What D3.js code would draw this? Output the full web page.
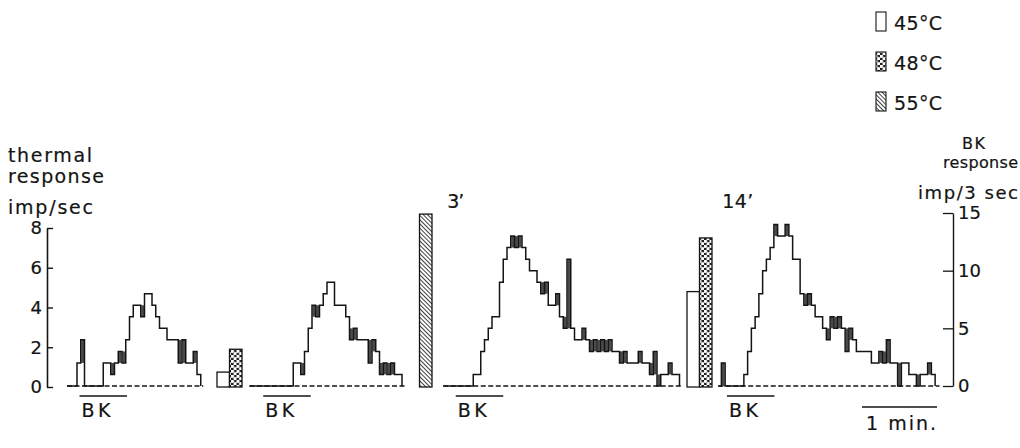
<!DOCTYPE html>
<html><head><meta charset="utf-8">
<script src="https://cdn.jsdelivr.net/npm/d3@7"></script>
<style>
html,body{margin:0;padding:0;background:#fff;}
svg{display:block;}
text{font-family:"DejaVu Sans","Liberation Sans",Arial,sans-serif;fill:#141414;stroke:#141414;stroke-width:0.2px;}
</style></head><body>
<svg id="c" width="1020" height="448"></svg>
<script>
// ---------- data ----------
const panelNames = ["", "", "3’", "14’"];
const panelStart = [0, 146, 301, 521];     // s, start of each record
const panelEnd   = [109, 270, 493, 698];   // s, end of dashed baseline
const histStart  = [8, 181, 325, 523.5];   // s, first bin of BK histogram
const binSec = 3;                          // imp / 3 sec
const bkHist1 = [2,4,0,0,0,0,0,2,2,1,2,3,2,4,6,7,7,6,8,8,7,6,5,5,4,4,4,2,4,2,2,3,1];
const bkHist2 = [2,2,1,3,5,7,6,7,8,9,9,7,7,7,6,4,5,4,4,4,2,4,3,1,2,1,2,1,1];
const bkHist3 = [1,1,3,4,5,6,6,9,11,12,13,12,13,12,11,10,10,9,8,9,7,7,8,6,5,11,5,4,4,5,4,3,4,3,4,3,4,3,3,2,3,2,2,2,3,2,2,1,3,0,1,1,2,1,1];
const bkHist4 = [2,0,0,0,0,0,1,3,5,6,8,10,11,12,14,13,13,14,13,11,11,8,7,8,7,6,6,5,4,6,5,6,5,3,5,4,3,3,3,3,2,2,3,2,4,2,2,0,2,2,1,1,0,1,1,2,1];
const bkStimStart = [10, 157, 311, 528];   // s
const bkStimDur = 38;                      // s
const thermalTemp  = ["45", "48", "55", "45", "48"];
const thermalStart = [120, 130, 282, 496, 506]; // s
const thermalDur = 10;                          // s
const thermalValue = [0.75, 1.9, 8.7, 4.8, 7.5]; // imp/sec
const legendTemps = ["45", "48", "55"];
const leftTicks = [0, 2, 4, 6, 8];
const rightTicks = [0, 5, 10, 15];
const scaleBarStart = 636, scaleBarDur = 60;

// ---------- drawing ----------
const svg = d3.select("#c");
const ink = "#141414";
const font = "DejaVu Sans, Liberation Sans, Arial, sans-serif";
const x = d3.scaleLinear().domain([0, 700]).range([67, 942]);
const yL = d3.scaleLinear().domain([0, 8]).range([387, 228]);
const yR = d3.scaleLinear().domain([0, 15]).range([386, 213]);

const defs = svg.append("defs");
const pDots = defs.append("pattern").attr("id","dots").attr("patternUnits","userSpaceOnUse")
  .attr("width",5.5).attr("height",5);
pDots.append("rect").attr("width",5.5).attr("height",5).attr("fill","#1c1c1c");
pDots.append("circle").attr("cx",1.4).attr("cy",1.25).attr("r",1.7).attr("fill","#fff");
pDots.append("circle").attr("cx",4.1).attr("cy",3.75).attr("r",1.7).attr("fill","#fff");
const pHatch = defs.append("pattern").attr("id","hatch").attr("patternUnits","userSpaceOnUse")
  .attr("width",3).attr("height",3).attr("patternTransform","rotate(-45)");
pHatch.append("rect").attr("width",3).attr("height",3).attr("fill","#fff");
pHatch.append("line").attr("x1",0).attr("y1",0).attr("x2",0).attr("y2",3)
  .attr("stroke","#1c1c1c").attr("stroke-width",1.7);
const fillFor = t => t === "45" ? "#fff" : (t === "48" ? "url(#dots)" : "url(#hatch)");

function label(xx, yy, txt, size, len) {
  const t = svg.append("text").attr("x",xx).attr("y",yy).attr("font-size",size).text(txt);
  if (len) t.attr("textLength",len).attr("lengthAdjust","spacing");
  return t;
}

// left axis
const axL = svg.append("g").attr("transform",`translate(47,0)`)
  .call(d3.axisLeft(yL).tickValues(leftTicks).tickSize(-6).tickSizeOuter(0).tickPadding(5));
axL.select(".domain").attr("stroke",ink).attr("stroke-width",1.6);
axL.selectAll(".tick line").attr("stroke",ink).attr("stroke-width",1.4);
axL.selectAll(".tick text").attr("font-size",18).attr("font-family",font).attr("fill",ink);

// right axis
const axR = svg.append("g").attr("transform",`translate(953,0)`)
  .call(d3.axisRight(yR).tickValues(rightTicks).tickSize(-10).tickSizeOuter(0).tickPadding(5));
axR.select(".domain").attr("stroke",ink).attr("stroke-width",1.4);
axR.selectAll(".tick line").attr("stroke",ink).attr("stroke-width",1.3);
axR.selectAll(".tick text").attr("font-size",18).attr("font-family",font).attr("fill",ink);

const hists = [bkHist1, bkHist2, bkHist3, bkHist4];
const line = d3.line().x(d => x(d[0])).y(d => yR(d[1])).curve(d3.curveStepAfter);

hists.forEach((h, p) => {
  const g = svg.append("g");
  // dashed baseline
  g.append("line").attr("x1",x(panelStart[p])).attr("x2",x(panelEnd[p]))
    .attr("y1",yR(0)).attr("y2",yR(0)).attr("stroke",ink).attr("stroke-width",1.3)
    .attr("stroke-dasharray","5,2.5");
  // stippled single-bin excursions
  h.forEach((v, i) => {
    const a = i > 0 ? h[i-1] : 0, b = i < h.length-1 ? h[i+1] : 0;
    let lo = null, hi = null;
    if (v > a && v > b) { lo = Math.max(a, b); hi = v; }
    else if (v < a && v < b) { lo = v; hi = Math.min(a, b); }
    if (lo !== null) {
      const t0 = histStart[p] + i*binSec;
      g.append("rect").attr("x",x(t0)+0.5).attr("width",x(t0+binSec)-x(t0)-1)
        .attr("y",yR(hi)).attr("height",yR(lo)-yR(hi)).attr("fill","#4a4a4a");
    }
  });
  // histogram outline
  const pts = [[panelStart[p], 0]];
  h.forEach((v, i) => pts.push([histStart[p] + i*binSec, v]));
  pts.push([histStart[p] + h.length*binSec, 0]);
  g.append("path").attr("d", line(pts)).attr("fill","none").attr("stroke",ink).attr("stroke-width",1.5);
  // BK stimulus bar
  g.append("line").attr("x1",x(bkStimStart[p])).attr("x2",x(bkStimStart[p]+bkStimDur))
    .attr("y1",396).attr("y2",396).attr("stroke",ink).attr("stroke-width",1.4);
  label(x(bkStimStart[p]) + 2, 417, "BK", 19, 29);
  if (panelNames[p]) {
    label(x(panelStart[p])+4, 208, panelNames[p], 19, p === 2 ? 17 : 31);
  }
});

// thermal response bars
thermalTemp.forEach((t, i) => {
  svg.append("rect").attr("x",x(thermalStart[i])).attr("width",x(thermalStart[i]+thermalDur)-x(thermalStart[i]))
    .attr("y",yL(thermalValue[i])).attr("height",yL(0)-yL(thermalValue[i]))
    .attr("fill",fillFor(t)).attr("stroke",ink).attr("stroke-width",1.3);
});

// legend
legendTemps.forEach((t, i) => {
  const yy = 12 + i*40;
  svg.append("rect").attr("x",876).attr("y",yy).attr("width",10).attr("height",19)
    .attr("fill",fillFor(t)).attr("stroke",ink).attr("stroke-width",1.1);
  label(894, yy+18, t + "°C", 19, 48);
});

// axis titles
label(8, 162, "thermal", 19, 84);
label(8, 183, "response", 19, 96);
label(8, 214, "imp/sec", 19, 85);
label(962, 149, "BK", 16, 23);
label(943, 168, "response", 16, 75);
label(918, 199, "imp/3 sec", 18, 100);

// time scale bar
svg.append("line").attr("x1",x(scaleBarStart)).attr("x2",x(scaleBarStart+scaleBarDur))
  .attr("y1",407).attr("y2",407).attr("stroke",ink).attr("stroke-width",1.4);
label(866, 430, "1 min.", 19, 70);
</script>
</body></html>
